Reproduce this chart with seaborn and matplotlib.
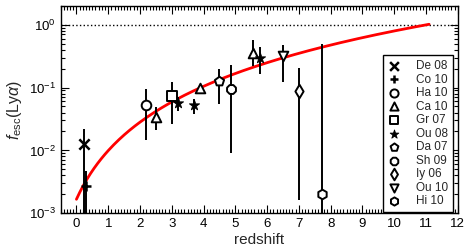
import numpy as np
import pandas as pd
import seaborn as sns
import matplotlib.pyplot as plt
from matplotlib.ticker import MultipleLocator, LogLocator, NullFormatter

ref = ["De 08", "Co 10", "Ha 10", "Ca 10", "Gr 07", "Ou 08", "Ou 08", "Ca 10",
       "Da 07", "Sh 09", "Ca 10", "Ou 08", "Ou 10", "Iy 06", "Hi 10"]
z = [0.24, 0.30, 2.18, 2.50, 3.00, 3.20, 3.70, 3.90,
     4.50, 4.86, 5.56, 5.79, 6.49, 7.01, 7.72]
fesc = [0.0127, 0.0027, 0.053, 0.034, 0.074, 0.057, 0.053, 0.097,
        0.128, 0.093, 0.36, 0.29, 0.32, 0.088, 0.002]
f_lo = [1e-4, 1e-4, 0.0148, 0.021, 0.026, 0.043, 0.038, 0.090,
        0.055, 0.0092, 0.22, 0.165, 0.121, 0.0016, 1e-4]
f_hi = [0.022, 0.0047, 0.094, 0.049, 0.121, 0.070, 0.065, 0.105,
        0.197, 0.228, 0.56, 0.44, 0.48, 0.206, 0.5]

legend_order = ["De 08", "Co 10", "Ha 10", "Ca 10", "Gr 07", "Ou 08",
                "Da 07", "Sh 09", "Iy 06", "Ou 10", "Hi 10"]
markers = ["x", "+", "o", "^", "s", "*", "p", "8", "d", "v", "h"]

# fitted relation f = C (1+z)^alpha, up to the redshift where it reaches 1
fit_C = 1.67e-3
fit_alpha = 2.57
fit_zmax = 11.1

df = pd.DataFrame({"ref": ref, "z": z, "fesc": fesc, "lo": f_lo, "hi": f_hi})

sns.set_theme(style="ticks")
plt.rcParams["font.family"] = ["Liberation Sans", "DejaVu Sans"]
plt.rcParams["mathtext.fontset"] = "custom"
plt.rcParams["mathtext.rm"] = "Liberation Sans"
plt.rcParams["mathtext.it"] = "Liberation Sans:italic"
plt.rcParams["mathtext.bf"] = "Liberation Sans:bold"

fig = plt.figure(figsize=(4.73, 2.52), dpi=100)
ax = fig.add_axes([0.128, 0.1536, 0.8397, 0.8238])

ax.axhline(1.0, color="black", ls=":", lw=1.0, zorder=1)

zz = np.linspace(0, fit_zmax, 200)
sns.lineplot(x=zz, y=fit_C * (1 + zz) ** fit_alpha, color="red", lw=2.0,
             ax=ax, zorder=2)

ax.vlines(df["z"], df["lo"], df["hi"], color="black", lw=1.4, zorder=3)

for name, m in zip(legend_order, markers):
    sub = df[df["ref"] == name]
    if m in ("x", "+"):
        sns.scatterplot(data=sub, x="z", y="fesc", marker=m, s=55, color="black",
                        linewidth=1.8, ax=ax, label=name, zorder=4)
    elif m == "*":
        sns.scatterplot(data=sub, x="z", y="fesc", marker=m, s=60, color="black",
                        edgecolor="black", linewidth=0.6, ax=ax, label=name, zorder=4)
    else:
        sns.scatterplot(data=sub, x="z", y="fesc", marker=m, s=48, facecolor="white",
                        edgecolor="black", linewidth=1.4, ax=ax, label=name, zorder=4)

ax.set_yscale("log")
ax.set_xlim(-0.5, 12)
ax.set_ylim(1e-3, 2)
ax.xaxis.set_major_locator(MultipleLocator(1))
ax.xaxis.set_minor_locator(MultipleLocator(0.1))
ax.yaxis.set_major_locator(LogLocator(base=10, numticks=10))
ax.yaxis.set_minor_locator(LogLocator(base=10, subs=np.arange(2, 10), numticks=10))
ax.yaxis.set_minor_formatter(NullFormatter())
ax.tick_params(which="both", direction="in", top=True, right=True, width=0.8,
               labelsize=9.5, colors="black")
ax.tick_params(which="major", length=6)
ax.tick_params(which="minor", length=3)
for sp in ax.spines.values():
    sp.set_linewidth(1.0)
    sp.set_color("black")

ax.set_xlabel("redshift", fontsize=11, labelpad=2)
ax.set_ylabel(r"$f_{\rm esc}(\mathrm{Ly}\alpha)$", fontsize=11.5, labelpad=3)

leg = ax.legend(loc="lower right", bbox_to_anchor=(0.988, 0.006), borderaxespad=0,
                fontsize=8.5, frameon=True, fancybox=False, edgecolor="black",
                framealpha=1, labelspacing=0.13, handletextpad=1.4,
                handlelength=1.0, borderpad=0.4, markerscale=0.85)
leg.get_frame().set_linewidth(1.0)

plt.savefig("out.png", dpi=100)
